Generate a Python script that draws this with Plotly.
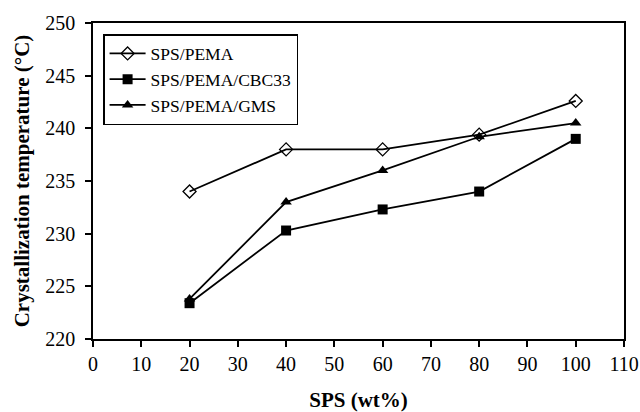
import plotly.graph_objects as go

sps = [20, 40, 60, 80, 100]
pema = [234.0, 238.0, 238.0, 239.4, 242.6]
cbc33 = [223.4, 230.3, 232.3, 234.0, 239.0]
gms = [223.8, 233.0, 236.0, 239.2, 240.5]

x_ticks = list(range(0, 111, 10))
y_ticks = list(range(220, 251, 5))

fig = go.Figure()
common_line = dict(color="black", width=1.8)
fig.add_trace(go.Scatter(x=sps, y=pema, name="SPS/PEMA", mode="lines+markers",
                         line=common_line,
                         marker=dict(symbol="diamond-open", size=10, color="black",
                                     line=dict(width=1.3, color="black"))))
fig.add_trace(go.Scatter(x=sps, y=cbc33, name="SPS/PEMA/CBC33", mode="lines+markers",
                         line=common_line,
                         marker=dict(symbol="square", size=10, color="black")))
fig.add_trace(go.Scatter(x=sps, y=gms, name="SPS/PEMA/GMS", mode="lines+markers",
                         line=common_line,
                         marker=dict(symbol="triangle-up", size=10, color="black")))

tickfont = dict(family="Liberation Serif", size=20, color="black")
fig.update_layout(
    width=640, height=412,
    margin=dict(l=93, r=16, t=23, b=73),
    paper_bgcolor="white", plot_bgcolor="white",
    showlegend=True,
    legend=dict(x=0.019, y=0.965, xanchor="left", yanchor="top",
                bgcolor="white", bordercolor="black", borderwidth=1.5,
                font=dict(family="Liberation Serif", size=17.5, color="black"),
                tracegroupgap=0, itemwidth=36),
    xaxis=dict(range=[0, 110], tickvals=x_ticks, ticktext=[str(v) for v in x_ticks],
               automargin=False, ticklabeloverflow="allow",
               showgrid=False, zeroline=False, showline=True, linecolor="black",
               linewidth=1.5, mirror=True, ticks="outside", ticklen=6, tickwidth=1.5,
               tickcolor="black", tickfont=tickfont,
               title=dict(text="<b>SPS (wt%)</b>", standoff=22,
                          font=dict(family="Liberation Serif", size=21, color="black"))),
    yaxis=dict(range=[220, 250], tickvals=y_ticks, ticktext=[str(v) for v in y_ticks],
               automargin=False, ticklabelstandoff=6, ticklabeloverflow="allow",
               showgrid=False, zeroline=False, showline=True, linecolor="black",
               linewidth=1.5, mirror=True, ticks="outside", ticklen=6, tickwidth=1.5,
               tickcolor="black", tickfont=tickfont,
               title=dict(text="<b>Crystallization temperature (°C)</b>", standoff=10,
                          font=dict(family="Liberation Serif", size=21, color="black"))),
)

fig.write_html("out.html", config={"displayModeBar": False},
               post_script="document.body.style.margin='0';document.body.style.overflow='hidden';")
